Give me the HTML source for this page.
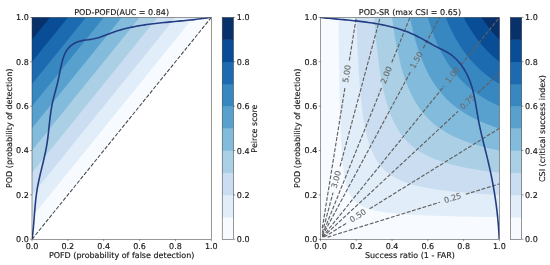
<!DOCTYPE html>
<html><head><meta charset="utf-8"><title>POD diagrams</title>
<style>html,body{margin:0;padding:0;background:#fff}svg{display:block;will-change:transform;text-rendering:geometricPrecision}text{stroke:#151515;stroke-width:.14px}text.bl{stroke:#6c6c6c}</style></head>
<body>
<svg width="550" height="265" viewBox="0 0 550 265" font-family='"DejaVu Sans", "Liberation Sans", sans-serif' font-size="8px" fill="#151515">
<rect width="550" height="265" fill="#fff"/>
<defs>
<clipPath id="c0"><rect x="32.0" y="17.4" width="179.3" height="221.9"/></clipPath>
<clipPath id="c1"><rect x="320.5" y="17.4" width="178.9" height="221.9"/></clipPath>
</defs>
<g clip-path="url(#c0)">
<polygon points="32,239.3 32,17.4 211.3,17.4" fill="#f7fbff"/>
<polygon points="32,217.11 32,17.4 193.37,17.4" fill="#e1edf8"/>
<polygon points="32,194.92 32,17.4 175.44,17.4" fill="#cbdef1"/>
<polygon points="32,172.73 32,17.4 157.51,17.4" fill="#abd0e6"/>
<polygon points="32,150.54 32,17.4 139.58,17.4" fill="#82bbdb"/>
<polygon points="32,128.35 32,17.4 121.65,17.4" fill="#58a1cf"/>
<polygon points="32,106.16 32,17.4 103.72,17.4" fill="#3787c0"/>
<polygon points="32,83.97 32,17.4 85.79,17.4" fill="#1c6ab0"/>
<polygon points="32,61.78 32,17.4 67.86,17.4" fill="#084d96"/>
<polygon points="32,39.59 32,17.4 49.93,17.4" fill="#08306b"/>
<line x1="32.0" y1="239.3" x2="211.3" y2="17.4" stroke="#444" stroke-width="1.05" stroke-dasharray="3.85 1.67"/>
<path d="M32.1 239.3 L32.34 237.15 L32.59 235.01 L32.83 232.87 L33.05 230.73 L33.26 228.58 L33.45 226.43 L33.64 224.28 L33.81 222.12 L33.99 219.97 L34.16 217.81 L34.32 215.65 L34.49 213.49 L34.66 211.33 L34.84 209.17 L35.03 207.01 L35.23 204.86 L35.44 202.7 L35.66 200.55 L35.9 198.4 L36.16 196.26 L36.44 194.11 L36.75 191.98 L37.08 189.84 L37.44 187.72 L37.83 185.59 L38.24 183.48 L38.67 181.36 L39.13 179.25 L39.6 177.15 L40.08 175.04 L40.57 172.94 L41.08 170.84 L41.58 168.74 L42.09 166.64 L42.6 164.54 L43.11 162.44 L43.6 160.34 L44.09 158.24 L44.57 156.14 L45.03 154.03 L45.48 151.92 L45.9 149.81 L46.31 147.69 L46.68 145.57 L47.03 143.44 L47.35 141.3 L47.64 139.17 L47.92 137.03 L48.18 134.88 L48.42 132.74 L48.65 130.59 L48.88 128.44 L49.11 126.29 L49.33 124.14 L49.56 121.99 L49.8 119.84 L50.06 117.7 L50.32 115.55 L50.61 113.41 L50.92 111.28 L51.25 109.15 L51.62 107.02 L52.02 104.9 L52.45 102.79 L52.93 100.68 L53.44 98.58 L53.97 96.48 L54.52 94.39 L55.08 92.31 L55.65 90.22 L56.21 88.14 L56.76 86.05 L57.3 83.97 L57.8 81.88 L58.28 79.79 L58.73 77.7 L59.15 75.6 L59.57 73.5 L59.98 71.39 L60.4 69.27 L60.85 67.15 L61.32 65.01 L61.84 62.86 L62.4 60.71 L63.04 58.56 L63.75 56.45 L64.57 54.41 L65.5 52.44 L66.57 50.59 L67.78 48.87 L69.15 47.3 L70.65 45.88 L72.27 44.61 L74.01 43.5 L75.86 42.55 L77.8 41.76 L79.82 41.14 L81.91 40.66 L84.06 40.29 L86.23 39.97 L88.42 39.68 L90.62 39.38 L92.8 39.03 L94.94 38.58 L97.06 38.04 L99.14 37.41 L101.19 36.71 L103.23 35.96 L105.25 35.19 L107.27 34.41 L109.29 33.63 L111.31 32.88 L113.34 32.16 L115.38 31.48 L117.43 30.83 L119.49 30.21 L121.55 29.62 L123.63 29.06 L125.71 28.54 L127.79 28.03 L129.89 27.56 L131.99 27.11 L134.09 26.68 L136.21 26.28 L138.32 25.9 L140.44 25.53 L142.57 25.19 L144.7 24.86 L146.84 24.56 L148.98 24.26 L151.12 23.98 L153.27 23.72 L155.42 23.46 L157.57 23.22 L159.72 22.99 L161.88 22.76 L164.03 22.54 L166.19 22.33 L168.35 22.12 L170.51 21.92 L172.67 21.72 L174.83 21.52 L176.99 21.32 L179.15 21.12 L181.31 20.92 L183.46 20.71 L185.62 20.5 L187.77 20.28 L189.92 20.06 L192.07 19.83 L194.22 19.59 L196.36 19.33 L198.5 19.07 L200.63 18.79 L202.76 18.5 L204.89 18.2 L207.01 17.88 L209.12 17.54 L211.3 17.3" fill="none" stroke="#223d83" stroke-width="1.6" stroke-linejoin="round"/>
</g>
<g clip-path="url(#c1)">
<rect x="320.5" y="17.4" width="178.9" height="221.9" fill="#f7fbff"/>
<polygon points="338.39,17.4 339.74,109.01 341.1,143.4 342.45,161.42 343.8,172.51 345.16,180.03 346.51,185.46 347.86,189.56 349.21,192.78 350.57,195.36 351.92,197.48 353.27,199.26 354.63,200.76 355.98,202.05 357.33,203.18 358.69,204.16 360.04,205.03 361.39,205.81 362.74,206.5 364.1,207.12 365.45,207.69 366.8,208.21 368.16,208.68 369.51,209.11 370.86,209.51 372.22,209.87 373.57,210.21 374.92,210.53 376.27,210.82 377.63,211.1 378.98,211.36 380.33,211.6 381.69,211.82 383.04,212.04 384.39,212.24 385.75,212.43 387.1,212.61 388.45,212.78 389.8,212.94 391.16,213.1 392.51,213.24 393.86,213.38 395.22,213.51 396.57,213.64 397.92,213.76 399.28,213.88 400.63,213.99 401.98,214.1 403.34,214.2 404.69,214.3 406.04,214.39 407.39,214.48 408.75,214.57 410.1,214.65 411.45,214.73 412.81,214.81 414.16,214.89 415.51,214.96 416.87,215.03 418.22,215.1 419.57,215.17 420.92,215.23 422.28,215.29 423.63,215.35 424.98,215.41 426.34,215.46 427.69,215.52 429.04,215.57 430.4,215.62 431.75,215.67 433.1,215.72 434.45,215.77 435.81,215.81 437.16,215.86 438.51,215.9 439.87,215.95 441.22,215.99 442.57,216.03 443.93,216.07 445.28,216.1 446.63,216.14 447.99,216.18 449.34,216.21 450.69,216.25 452.04,216.28 453.4,216.31 454.75,216.35 456.1,216.38 457.46,216.41 458.81,216.44 460.16,216.47 461.52,216.5 462.87,216.53 464.22,216.55 465.57,216.58 466.93,216.61 468.28,216.63 469.63,216.66 470.99,216.68 472.34,216.71 473.69,216.73 475.05,216.75 476.4,216.78 477.75,216.8 479.1,216.82 480.46,216.84 481.81,216.87 483.16,216.89 484.52,216.91 485.87,216.93 487.22,216.95 488.58,216.97 489.93,216.99 491.28,217 492.63,217.02 493.99,217.04 495.34,217.06 496.69,217.08 498.05,217.09 499.4,217.11 499.4,17.4" fill="#e1edf8"/>
<polygon points="356.28,17.4 357.48,48.43 358.69,70.55 359.89,87.11 361.09,99.97 362.29,110.25 363.5,118.65 364.7,125.64 365.9,131.56 367.1,136.63 368.31,141.02 369.51,144.86 370.71,148.25 371.91,151.26 373.12,153.95 374.32,156.38 375.52,158.57 376.73,160.56 377.93,162.38 379.13,164.05 380.33,165.58 381.54,167 382.74,168.31 383.94,169.52 385.14,170.65 386.35,171.71 387.55,172.7 388.75,173.63 389.96,174.5 391.16,175.32 392.36,176.09 393.56,176.82 394.77,177.51 395.97,178.16 397.17,178.78 398.37,179.37 399.58,179.93 400.78,180.46 401.98,180.97 403.18,181.46 404.39,181.92 405.59,182.37 406.79,182.79 408,183.2 409.2,183.59 410.4,183.96 411.6,184.32 412.81,184.67 414.01,185 415.21,185.32 416.41,185.63 417.62,185.93 418.82,186.22 420.02,186.5 421.23,186.77 422.43,187.02 423.63,187.28 424.83,187.52 426.04,187.75 427.24,187.98 428.44,188.2 429.64,188.42 430.85,188.62 432.05,188.82 433.25,189.02 434.45,189.21 435.66,189.4 436.86,189.57 438.06,189.75 439.27,189.92 440.47,190.08 441.67,190.25 442.87,190.4 444.08,190.56 445.28,190.7 446.48,190.85 447.68,190.99 448.89,191.13 450.09,191.26 451.29,191.4 452.5,191.52 453.7,191.65 454.9,191.77 456.1,191.89 457.31,192.01 458.51,192.12 459.71,192.24 460.91,192.35 462.12,192.45 463.32,192.56 464.52,192.66 465.72,192.76 466.93,192.86 468.13,192.96 469.33,193.05 470.54,193.14 471.74,193.23 472.94,193.32 474.14,193.41 475.35,193.5 476.55,193.58 477.75,193.66 478.95,193.74 480.16,193.82 481.36,193.9 482.56,193.98 483.77,194.05 484.97,194.13 486.17,194.2 487.37,194.27 488.58,194.34 489.78,194.41 490.98,194.48 492.18,194.54 493.39,194.61 494.59,194.67 495.79,194.74 496.99,194.8 498.2,194.86 499.4,194.92 499.4,17.4" fill="#cbdef1"/>
<polygon points="374.17,17.4 375.22,30.77 376.27,42.19 377.33,52.07 378.38,60.7 379.43,68.29 380.48,75.04 381.54,81.06 382.59,86.47 383.64,91.37 384.69,95.81 385.75,99.86 386.8,103.57 387.85,106.99 388.9,110.13 389.96,113.05 391.01,115.75 392.06,118.26 393.11,120.61 394.16,122.8 395.22,124.86 396.27,126.79 397.32,128.6 398.37,130.31 399.43,131.93 400.48,133.46 401.53,134.9 402.58,136.28 403.64,137.58 404.69,138.82 405.74,140 406.79,141.12 407.85,142.19 408.9,143.22 409.95,144.2 411,145.14 412.05,146.04 413.11,146.9 414.16,147.73 415.21,148.52 416.26,149.29 417.32,150.02 418.37,150.73 419.42,151.41 420.47,152.07 421.53,152.7 422.58,153.32 423.63,153.91 424.68,154.48 425.74,155.03 426.79,155.57 427.84,156.09 428.89,156.59 429.94,157.08 431,157.55 432.05,158 433.1,158.45 434.15,158.88 435.21,159.3 436.26,159.71 437.31,160.1 438.36,160.49 439.42,160.86 440.47,161.22 441.52,161.58 442.57,161.92 443.63,162.26 444.68,162.59 445.73,162.91 446.78,163.22 447.83,163.52 448.89,163.82 449.94,164.11 450.99,164.39 452.04,164.67 453.1,164.94 454.15,165.2 455.2,165.46 456.25,165.71 457.31,165.96 458.36,166.2 459.41,166.44 460.46,166.67 461.52,166.89 462.57,167.12 463.62,167.33 464.67,167.54 465.72,167.75 466.78,167.96 467.83,168.16 468.88,168.35 469.93,168.54 470.99,168.73 472.04,168.92 473.09,169.1 474.14,169.28 475.2,169.45 476.25,169.62 477.3,169.79 478.35,169.96 479.41,170.12 480.46,170.28 481.51,170.43 482.56,170.59 483.61,170.74 484.67,170.89 485.72,171.03 486.77,171.18 487.82,171.32 488.88,171.46 489.93,171.59 490.98,171.73 492.03,171.86 493.09,171.99 494.14,172.12 495.19,172.25 496.24,172.37 497.3,172.49 498.35,172.61 499.4,172.73 499.4,17.4" fill="#abd0e6"/>
<polygon points="392.06,17.4 392.96,24.1 393.86,30.25 394.77,35.93 395.67,41.18 396.57,46.04 397.47,50.57 398.37,54.8 399.28,58.75 400.18,62.45 401.08,65.92 401.98,69.19 402.88,72.27 403.79,75.17 404.69,77.92 405.59,80.52 406.49,82.99 407.39,85.33 408.3,87.56 409.2,89.68 410.1,91.7 411,93.63 411.9,95.47 412.81,97.23 413.71,98.91 414.61,100.53 415.51,102.08 416.41,103.56 417.32,104.99 418.22,106.36 419.12,107.68 420.02,108.96 420.92,110.18 421.83,111.36 422.73,112.5 423.63,113.6 424.53,114.66 425.43,115.69 426.34,116.68 427.24,117.64 428.14,118.57 429.04,119.47 429.94,120.34 430.85,121.19 431.75,122.01 432.65,122.81 433.55,123.58 434.45,124.33 435.36,125.06 436.26,125.77 437.16,126.46 438.06,127.13 438.96,127.78 439.87,128.42 440.77,129.04 441.67,129.64 442.57,130.23 443.47,130.8 444.38,131.36 445.28,131.91 446.18,132.44 447.08,132.96 447.99,133.47 448.89,133.96 449.79,134.45 450.69,134.92 451.59,135.38 452.5,135.83 453.4,136.28 454.3,136.71 455.2,137.13 456.1,137.54 457.01,137.95 457.91,138.35 458.81,138.73 459.71,139.12 460.61,139.49 461.52,139.85 462.42,140.21 463.32,140.56 464.22,140.91 465.12,141.24 466.03,141.58 466.93,141.9 467.83,142.22 468.73,142.53 469.63,142.84 470.54,143.14 471.44,143.44 472.34,143.73 473.24,144.01 474.14,144.29 475.05,144.57 475.95,144.84 476.85,145.11 477.75,145.37 478.65,145.62 479.56,145.88 480.46,146.13 481.36,146.37 482.26,146.61 483.16,146.85 484.07,147.08 484.97,147.31 485.87,147.54 486.77,147.76 487.67,147.98 488.58,148.19 489.48,148.41 490.38,148.61 491.28,148.82 492.18,149.02 493.09,149.22 493.99,149.42 494.89,149.61 495.79,149.8 496.69,149.99 497.6,150.18 498.5,150.36 499.4,150.54 499.4,17.4" fill="#82bbdb"/>
<polygon points="409.95,17.4 410.7,21.04 411.45,24.5 412.21,27.8 412.96,30.95 413.71,33.96 414.46,36.84 415.21,39.59 415.96,42.23 416.72,44.76 417.47,47.19 418.22,49.52 418.97,51.76 419.72,53.92 420.47,55.99 421.23,57.99 421.98,59.92 422.73,61.78 423.48,63.58 424.23,65.31 424.98,66.99 425.74,68.61 426.49,70.18 427.24,71.69 427.99,73.17 428.74,74.59 429.49,75.97 430.25,77.31 431,78.61 431.75,79.88 432.5,81.1 433.25,82.3 434,83.45 434.76,84.58 435.51,85.68 436.26,86.74 437.01,87.78 437.76,88.79 438.51,89.78 439.27,90.74 440.02,91.68 440.77,92.59 441.52,93.48 442.27,94.35 443.02,95.2 443.78,96.03 444.53,96.84 445.28,97.63 446.03,98.4 446.78,99.15 447.53,99.89 448.29,100.61 449.04,101.32 449.79,102.01 450.54,102.69 451.29,103.35 452.04,104 452.8,104.63 453.55,105.25 454.3,105.86 455.05,106.46 455.8,107.04 456.55,107.62 457.31,108.18 458.06,108.73 458.81,109.27 459.56,109.8 460.31,110.32 461.06,110.83 461.82,111.33 462.57,111.83 463.32,112.31 464.07,112.78 464.82,113.25 465.57,113.71 466.33,114.16 467.08,114.6 467.83,115.04 468.58,115.46 469.33,115.88 470.08,116.3 470.84,116.7 471.59,117.1 472.34,117.5 473.09,117.88 473.84,118.26 474.59,118.64 475.35,119.01 476.1,119.37 476.85,119.73 477.6,120.08 478.35,120.43 479.1,120.77 479.86,121.1 480.61,121.43 481.36,121.76 482.11,122.08 482.86,122.4 483.61,122.71 484.37,123.02 485.12,123.32 485.87,123.62 486.62,123.91 487.37,124.2 488.12,124.49 488.88,124.77 489.63,125.05 490.38,125.32 491.13,125.6 491.88,125.86 492.63,126.13 493.39,126.39 494.14,126.64 494.89,126.9 495.64,127.15 496.39,127.39 497.14,127.64 497.9,127.88 498.65,128.12 499.4,128.35 499.4,17.4" fill="#58a1cf"/>
<polygon points="427.84,17.4 428.44,19.44 429.04,21.42 429.64,23.35 430.25,25.22 430.85,27.04 431.45,28.81 432.05,30.53 432.65,32.21 433.25,33.84 433.85,35.43 434.45,36.97 435.06,38.48 435.66,39.95 436.26,41.39 436.86,42.79 437.46,44.16 438.06,45.49 438.66,46.79 439.27,48.06 439.87,49.31 440.47,50.52 441.07,51.71 441.67,52.87 442.27,54 442.87,55.11 443.47,56.2 444.08,57.26 444.68,58.3 445.28,59.32 445.88,60.32 446.48,61.3 447.08,62.26 447.68,63.2 448.29,64.12 448.89,65.02 449.49,65.9 450.09,66.77 450.69,67.62 451.29,68.46 451.89,69.28 452.5,70.08 453.1,70.87 453.7,71.65 454.3,72.41 454.9,73.15 455.5,73.89 456.1,74.61 456.7,75.32 457.31,76.02 457.91,76.7 458.51,77.37 459.11,78.03 459.71,78.69 460.31,79.33 460.91,79.96 461.52,80.57 462.12,81.18 462.72,81.78 463.32,82.37 463.92,82.95 464.52,83.53 465.12,84.09 465.72,84.64 466.33,85.19 466.93,85.73 467.53,86.25 468.13,86.78 468.73,87.29 469.33,87.8 469.93,88.29 470.54,88.79 471.14,89.27 471.74,89.75 472.34,90.22 472.94,90.68 473.54,91.14 474.14,91.59 474.74,92.04 475.35,92.48 475.95,92.91 476.55,93.34 477.15,93.76 477.75,94.17 478.35,94.58 478.95,94.99 479.56,95.39 480.16,95.78 480.76,96.17 481.36,96.55 481.96,96.93 482.56,97.31 483.16,97.68 483.77,98.04 484.37,98.4 484.97,98.76 485.57,99.11 486.17,99.46 486.77,99.8 487.37,100.14 487.97,100.48 488.58,100.81 489.18,101.14 489.78,101.46 490.38,101.78 490.98,102.09 491.58,102.41 492.18,102.72 492.79,103.02 493.39,103.32 493.99,103.62 494.59,103.92 495.19,104.21 495.79,104.5 496.39,104.78 496.99,105.06 497.6,105.34 498.2,105.62 498.8,105.89 499.4,106.16 499.4,17.4" fill="#3787c0"/>
<polygon points="445.73,17.4 446.18,18.53 446.63,19.64 447.08,20.74 447.53,21.81 447.99,22.87 448.44,23.91 448.89,24.93 449.34,25.94 449.79,26.93 450.24,27.9 450.69,28.86 451.14,29.8 451.59,30.73 452.04,31.64 452.5,32.54 452.95,33.42 453.4,34.3 453.85,35.15 454.3,36 454.75,36.83 455.2,37.65 455.65,38.46 456.1,39.26 456.55,40.05 457.01,40.82 457.46,41.58 457.91,42.34 458.36,43.08 458.81,43.81 459.26,44.53 459.71,45.24 460.16,45.94 460.61,46.64 461.06,47.32 461.52,47.99 461.97,48.66 462.42,49.31 462.87,49.96 463.32,50.6 463.77,51.23 464.22,51.85 464.67,52.47 465.12,53.07 465.57,53.67 466.03,54.27 466.48,54.85 466.93,55.43 467.38,56 467.83,56.56 468.28,57.11 468.73,57.66 469.18,58.21 469.63,58.74 470.08,59.27 470.54,59.8 470.99,60.31 471.44,60.83 471.89,61.33 472.34,61.83 472.79,62.32 473.24,62.81 473.69,63.3 474.14,63.77 474.59,64.24 475.05,64.71 475.5,65.17 475.95,65.63 476.4,66.08 476.85,66.53 477.3,66.97 477.75,67.4 478.2,67.84 478.65,68.26 479.1,68.69 479.56,69.11 480.01,69.52 480.46,69.93 480.91,70.34 481.36,70.74 481.81,71.13 482.26,71.53 482.71,71.92 483.16,72.3 483.61,72.68 484.07,73.06 484.52,73.43 484.97,73.8 485.42,74.17 485.87,74.53 486.32,74.89 486.77,75.25 487.22,75.6 487.67,75.95 488.12,76.29 488.58,76.64 489.03,76.98 489.48,77.31 489.93,77.64 490.38,77.97 490.83,78.3 491.28,78.62 491.73,78.94 492.18,79.26 492.63,79.58 493.09,79.89 493.54,80.2 493.99,80.5 494.44,80.81 494.89,81.11 495.34,81.4 495.79,81.7 496.24,81.99 496.69,82.28 497.14,82.57 497.6,82.85 498.05,83.14 498.5,83.42 498.95,83.69 499.4,83.97 499.4,17.4" fill="#1c6ab0"/>
<polygon points="463.62,17.4 463.92,17.98 464.22,18.55 464.52,19.12 464.82,19.69 465.12,20.25 465.42,20.8 465.72,21.35 466.03,21.89 466.33,22.43 466.63,22.96 466.93,23.49 467.23,24.02 467.53,24.54 467.83,25.05 468.13,25.56 468.43,26.07 468.73,26.57 469.03,27.07 469.33,27.56 469.63,28.05 469.93,28.53 470.23,29.01 470.54,29.49 470.84,29.96 471.14,30.43 471.44,30.89 471.74,31.35 472.04,31.81 472.34,32.26 472.64,32.71 472.94,33.16 473.24,33.6 473.54,34.03 473.84,34.47 474.14,34.9 474.44,35.33 474.74,35.75 475.05,36.17 475.35,36.59 475.65,37 475.95,37.41 476.25,37.82 476.55,38.22 476.85,38.63 477.15,39.02 477.45,39.42 477.75,39.81 478.05,40.2 478.35,40.58 478.65,40.97 478.95,41.35 479.25,41.72 479.56,42.1 479.86,42.47 480.16,42.84 480.46,43.2 480.76,43.57 481.06,43.93 481.36,44.28 481.66,44.64 481.96,44.99 482.26,45.34 482.56,45.69 482.86,46.03 483.16,46.37 483.46,46.71 483.77,47.05 484.07,47.39 484.37,47.72 484.67,48.05 484.97,48.38 485.27,48.7 485.57,49.03 485.87,49.35 486.17,49.67 486.47,49.98 486.77,50.3 487.07,50.61 487.37,50.92 487.67,51.23 487.97,51.53 488.28,51.84 488.58,52.14 488.88,52.44 489.18,52.73 489.48,53.03 489.78,53.32 490.08,53.62 490.38,53.9 490.68,54.19 490.98,54.48 491.28,54.76 491.58,55.04 491.88,55.32 492.18,55.6 492.48,55.88 492.79,56.15 493.09,56.43 493.39,56.7 493.69,56.97 493.99,57.24 494.29,57.5 494.59,57.77 494.89,58.03 495.19,58.29 495.49,58.55 495.79,58.81 496.09,59.06 496.39,59.32 496.69,59.57 496.99,59.82 497.3,60.07 497.6,60.32 497.9,60.57 498.2,60.81 498.5,61.06 498.8,61.3 499.1,61.54 499.4,61.78 499.4,17.4" fill="#084d96"/>
<polygon points="481.51,17.4 481.66,17.63 481.81,17.86 481.96,18.09 482.11,18.31 482.26,18.54 482.41,18.77 482.56,18.99 482.71,19.21 482.86,19.44 483.01,19.66 483.16,19.88 483.31,20.1 483.46,20.32 483.61,20.54 483.77,20.75 483.92,20.97 484.07,21.19 484.22,21.4 484.37,21.62 484.52,21.83 484.67,22.04 484.82,22.25 484.97,22.47 485.12,22.68 485.27,22.88 485.42,23.09 485.57,23.3 485.72,23.51 485.87,23.72 486.02,23.92 486.17,24.13 486.32,24.33 486.47,24.53 486.62,24.74 486.77,24.94 486.92,25.14 487.07,25.34 487.22,25.54 487.37,25.74 487.52,25.94 487.67,26.13 487.82,26.33 487.97,26.53 488.12,26.72 488.28,26.92 488.43,27.11 488.58,27.3 488.73,27.49 488.88,27.69 489.03,27.88 489.18,28.07 489.33,28.26 489.48,28.45 489.63,28.64 489.78,28.82 489.93,29.01 490.08,29.2 490.23,29.38 490.38,29.57 490.53,29.75 490.68,29.94 490.83,30.12 490.98,30.3 491.13,30.48 491.28,30.66 491.43,30.84 491.58,31.02 491.73,31.2 491.88,31.38 492.03,31.56 492.18,31.74 492.33,31.92 492.48,32.09 492.63,32.27 492.79,32.44 492.94,32.62 493.09,32.79 493.24,32.96 493.39,33.14 493.54,33.31 493.69,33.48 493.84,33.65 493.99,33.82 494.14,33.99 494.29,34.16 494.44,34.33 494.59,34.5 494.74,34.66 494.89,34.83 495.04,35 495.19,35.16 495.34,35.33 495.49,35.49 495.64,35.66 495.79,35.82 495.94,35.98 496.09,36.15 496.24,36.31 496.39,36.47 496.54,36.63 496.69,36.79 496.84,36.95 496.99,37.11 497.14,37.27 497.3,37.43 497.45,37.58 497.6,37.74 497.75,37.9 497.9,38.06 498.05,38.21 498.2,38.37 498.35,38.52 498.5,38.67 498.65,38.83 498.8,38.98 498.95,39.13 499.1,39.29 499.25,39.44 499.4,39.59 499.4,17.4" fill="#08306b"/>
<path d="M322.29 228.21 L345 87.36 M349.33 60.51 L356.28 17.4" fill="none" stroke="#606060" stroke-width="1.15" stroke-dasharray="3.85 1.67"/>
<path d="M322.29 232.64 L333.02 192.69 M340.08 166.43 L380.13 17.4" fill="none" stroke="#606060" stroke-width="1.15" stroke-dasharray="3.85 1.67"/>
<path d="M322.29 234.86 L381.57 87.8 M391.74 62.57 L409.95 17.4" fill="none" stroke="#606060" stroke-width="1.15" stroke-dasharray="3.85 1.67"/>
<path d="M322.29 235.97 L410.31 72.21 M423.18 48.25 L439.77 17.4" fill="none" stroke="#606060" stroke-width="1.15" stroke-dasharray="3.85 1.67"/>
<path d="M322.29 237.08 L444.15 85.93 M461.22 64.75 L499.4 17.4" fill="none" stroke="#606060" stroke-width="1.15" stroke-dasharray="3.85 1.67"/>
<path d="M322.89 237.08 L457.98 111.4 M477.9 92.88 L499.4 72.88" fill="none" stroke="#606060" stroke-width="1.15" stroke-dasharray="3.85 1.67"/>
<path d="M324.08 237.08 L346.54 223.15 M369.66 208.81 L499.4 128.35" fill="none" stroke="#606060" stroke-width="1.15" stroke-dasharray="3.85 1.67"/>
<path d="M327.66 237.08 L439.78 202.31 M465.76 194.26 L499.4 183.83" fill="none" stroke="#606060" stroke-width="1.15" stroke-dasharray="3.85 1.67"/>
<text transform="translate(347.16 73.93) rotate(-80.84)" class="bl" text-anchor="middle" y="2.35" fill="#6c6c6c">5.00</text>
<text transform="translate(336.55 179.56) rotate(-74.96)" class="bl" text-anchor="middle" y="2.35" fill="#6c6c6c">3.00</text>
<text transform="translate(386.66 75.18) rotate(-68.05)" class="bl" text-anchor="middle" y="2.35" fill="#6c6c6c">2.00</text>
<text transform="translate(416.75 60.23) rotate(-61.74)" class="bl" text-anchor="middle" y="2.35" fill="#6c6c6c">1.50</text>
<text transform="translate(452.69 75.34) rotate(-51.12)" class="bl" text-anchor="middle" y="2.35" fill="#6c6c6c">1.00</text>
<text transform="translate(467.94 102.14) rotate(-42.93)" class="bl" text-anchor="middle" y="2.35" fill="#6c6c6c">0.75</text>
<text transform="translate(358.1 215.98) rotate(-31.81)" class="bl" text-anchor="middle" y="2.35" fill="#6c6c6c">0.50</text>
<text transform="translate(452.77 198.28) rotate(-17.23)" class="bl" text-anchor="middle" y="2.35" fill="#6c6c6c">0.25</text>
<path d="M320.5 17.3 L322.58 17.65 L324.63 17.87 L326.69 18.09 L328.76 18.29 L330.83 18.5 L332.9 18.7 L334.97 18.89 L337.05 19.08 L339.13 19.28 L341.21 19.47 L343.3 19.66 L345.38 19.86 L347.47 20.05 L349.55 20.26 L351.64 20.46 L353.73 20.68 L355.81 20.9 L357.9 21.12 L359.98 21.36 L362.06 21.61 L364.14 21.86 L366.22 22.13 L368.29 22.42 L370.36 22.71 L372.42 23.03 L374.49 23.35 L376.54 23.7 L378.59 24.06 L380.64 24.45 L382.68 24.85 L384.72 25.27 L386.75 25.72 L388.77 26.19 L390.78 26.68 L392.79 27.2 L394.79 27.74 L396.78 28.31 L398.76 28.91 L400.73 29.54 L402.7 30.2 L404.65 30.89 L406.59 31.61 L408.53 32.36 L410.45 33.15 L412.36 33.98 L414.25 34.84 L416.14 35.74 L418.01 36.67 L419.88 37.64 L421.73 38.64 L423.57 39.66 L425.41 40.7 L427.25 41.74 L429.09 42.78 L430.93 43.82 L432.78 44.84 L434.63 45.84 L436.49 46.82 L438.36 47.75 L440.24 48.67 L442.12 49.58 L443.97 50.51 L445.8 51.47 L447.6 52.48 L449.35 53.56 L451.04 54.73 L452.68 55.99 L454.25 57.33 L455.77 58.74 L457.24 60.22 L458.64 61.76 L459.98 63.37 L461.27 65.03 L462.49 66.74 L463.66 68.5 L464.76 70.29 L465.8 72.12 L466.79 73.98 L467.71 75.87 L468.56 77.78 L469.36 79.7 L470.11 81.64 L470.8 83.6 L471.44 85.57 L472.04 87.55 L472.59 89.55 L473.11 91.56 L473.6 93.58 L474.05 95.61 L474.48 97.64 L474.88 99.69 L475.27 101.74 L475.64 103.79 L476 105.85 L476.35 107.91 L476.69 109.98 L477.03 112.04 L477.38 114.11 L477.73 116.17 L478.1 118.23 L478.47 120.29 L478.86 122.35 L479.27 124.4 L479.7 126.44 L480.14 128.48 L480.59 130.52 L481.05 132.56 L481.52 134.59 L482 136.62 L482.49 138.65 L482.99 140.68 L483.49 142.7 L483.99 144.73 L484.5 146.75 L485.01 148.78 L485.51 150.8 L486.02 152.82 L486.52 154.85 L487.02 156.87 L487.52 158.9 L488 160.93 L488.48 162.96 L488.95 164.99 L489.41 167.03 L489.87 169.06 L490.31 171.1 L490.74 173.14 L491.17 175.18 L491.58 177.23 L491.99 179.27 L492.38 181.32 L492.77 183.37 L493.15 185.42 L493.51 187.48 L493.87 189.53 L494.22 191.59 L494.55 193.65 L494.88 195.71 L495.2 197.77 L495.5 199.83 L495.8 201.9 L496.08 203.97 L496.36 206.03 L496.62 208.1 L496.87 210.18 L497.11 212.25 L497.34 214.32 L497.56 216.4 L497.77 218.48 L497.97 220.55 L498.16 222.63 L498.33 224.72 L498.49 226.8 L498.64 228.88 L498.78 230.97 L498.91 233.05 L499.03 235.14 L499.13 237.23 L499.3 239.3" fill="none" stroke="#223d83" stroke-width="1.6" stroke-linejoin="round"/>
</g>
<rect x="32.0" y="17.4" width="179.3" height="221.9" fill="none" stroke="#333" stroke-width="0.5"/>
<text x="32" y="248.6" text-anchor="middle">0.0</text>
<text x="28.8" y="242.05" text-anchor="end">0.0</text>
<text x="67.86" y="248.6" text-anchor="middle">0.2</text>
<text x="28.8" y="197.67" text-anchor="end">0.2</text>
<text x="103.72" y="248.6" text-anchor="middle">0.4</text>
<text x="28.8" y="153.29" text-anchor="end">0.4</text>
<text x="139.58" y="248.6" text-anchor="middle">0.6</text>
<text x="28.8" y="108.91" text-anchor="end">0.6</text>
<text x="175.44" y="248.6" text-anchor="middle">0.8</text>
<text x="28.8" y="64.53" text-anchor="end">0.8</text>
<text x="211.3" y="248.6" text-anchor="middle">1.0</text>
<text x="28.8" y="20.15" text-anchor="end">1.0</text>
<path d="M32 239.3 v1.8 M32.0 239.3 h-1.8 M67.86 239.3 v1.8 M32.0 194.92 h-1.8 M103.72 239.3 v1.8 M32.0 150.54 h-1.8 M139.58 239.3 v1.8 M32.0 106.16 h-1.8 M175.44 239.3 v1.8 M32.0 61.78 h-1.8 M211.3 239.3 v1.8 M32.0 17.4 h-1.8" stroke="#333" stroke-width="0.5" fill="none"/>
<text x="121.65" y="14.6" text-anchor="middle">POD-POFD(AUC = 0.84)</text>
<text x="121.65" y="258.1" text-anchor="middle">POFD (probability of false detection)</text>
<text transform="translate(11.7 128.35) rotate(-90)" text-anchor="middle">POD (probability of detection)</text>
<rect x="222.2" y="217.11" width="11.3" height="22.49" fill="#f7fbff"/>
<rect x="222.2" y="194.92" width="11.3" height="22.49" fill="#e1edf8"/>
<rect x="222.2" y="172.73" width="11.3" height="22.49" fill="#cbdef1"/>
<rect x="222.2" y="150.54" width="11.3" height="22.49" fill="#abd0e6"/>
<rect x="222.2" y="128.35" width="11.3" height="22.49" fill="#82bbdb"/>
<rect x="222.2" y="106.16" width="11.3" height="22.49" fill="#58a1cf"/>
<rect x="222.2" y="83.97" width="11.3" height="22.49" fill="#3787c0"/>
<rect x="222.2" y="61.78" width="11.3" height="22.49" fill="#1c6ab0"/>
<rect x="222.2" y="39.59" width="11.3" height="22.49" fill="#084d96"/>
<rect x="222.2" y="17.4" width="11.3" height="22.49" fill="#08306b"/>
<rect x="222.2" y="17.4" width="11.3" height="221.9" fill="none" stroke="#333" stroke-width="0.5"/>
<text x="236.8" y="242.3">0.0</text>
<text x="236.8" y="197.92">0.2</text>
<text x="236.8" y="153.54">0.4</text>
<text x="236.8" y="109.16">0.6</text>
<text x="236.8" y="64.78">0.8</text>
<text x="236.8" y="20.4">1.0</text>
<path d="M233.5 239.3 h1.8 M233.5 194.92 h1.8 M233.5 150.54 h1.8 M233.5 106.16 h1.8 M233.5 61.78 h1.8 M233.5 17.4 h1.8" stroke="#333" stroke-width="0.5" fill="none"/>
<text transform="translate(257.1 128.55) rotate(-90)" text-anchor="middle">Peirce score</text>
<rect x="320.5" y="17.4" width="178.9" height="221.9" fill="none" stroke="#333" stroke-width="0.5"/>
<text x="320.5" y="248.6" text-anchor="middle">0.0</text>
<text x="317.3" y="242.05" text-anchor="end">0.0</text>
<text x="356.28" y="248.6" text-anchor="middle">0.2</text>
<text x="317.3" y="197.67" text-anchor="end">0.2</text>
<text x="392.06" y="248.6" text-anchor="middle">0.4</text>
<text x="317.3" y="153.29" text-anchor="end">0.4</text>
<text x="427.84" y="248.6" text-anchor="middle">0.6</text>
<text x="317.3" y="108.91" text-anchor="end">0.6</text>
<text x="463.62" y="248.6" text-anchor="middle">0.8</text>
<text x="317.3" y="64.53" text-anchor="end">0.8</text>
<text x="499.4" y="248.6" text-anchor="middle">1.0</text>
<text x="317.3" y="20.15" text-anchor="end">1.0</text>
<path d="M320.5 239.3 v1.8 M320.5 239.3 h-1.8 M356.28 239.3 v1.8 M320.5 194.92 h-1.8 M392.06 239.3 v1.8 M320.5 150.54 h-1.8 M427.84 239.3 v1.8 M320.5 106.16 h-1.8 M463.62 239.3 v1.8 M320.5 61.78 h-1.8 M499.4 239.3 v1.8 M320.5 17.4 h-1.8" stroke="#333" stroke-width="0.5" fill="none"/>
<text x="409.95" y="14.6" text-anchor="middle">POD-SR (max CSI = 0.65)</text>
<text x="409.95" y="258.1" text-anchor="middle">Success ratio (1 - FAR)</text>
<text transform="translate(300.2 128.35) rotate(-90)" text-anchor="middle">POD (probability of detection)</text>
<rect x="510.3" y="217.11" width="11.4" height="22.49" fill="#f7fbff"/>
<rect x="510.3" y="194.92" width="11.4" height="22.49" fill="#e1edf8"/>
<rect x="510.3" y="172.73" width="11.4" height="22.49" fill="#cbdef1"/>
<rect x="510.3" y="150.54" width="11.4" height="22.49" fill="#abd0e6"/>
<rect x="510.3" y="128.35" width="11.4" height="22.49" fill="#82bbdb"/>
<rect x="510.3" y="106.16" width="11.4" height="22.49" fill="#58a1cf"/>
<rect x="510.3" y="83.97" width="11.4" height="22.49" fill="#3787c0"/>
<rect x="510.3" y="61.78" width="11.4" height="22.49" fill="#1c6ab0"/>
<rect x="510.3" y="39.59" width="11.4" height="22.49" fill="#084d96"/>
<rect x="510.3" y="17.4" width="11.4" height="22.49" fill="#08306b"/>
<rect x="510.3" y="17.4" width="11.4" height="221.9" fill="none" stroke="#333" stroke-width="0.5"/>
<text x="525" y="242.3">0.0</text>
<text x="525" y="197.92">0.2</text>
<text x="525" y="153.54">0.4</text>
<text x="525" y="109.16">0.6</text>
<text x="525" y="64.78">0.8</text>
<text x="525" y="20.4">1.0</text>
<path d="M521.7 239.3 h1.8 M521.7 194.92 h1.8 M521.7 150.54 h1.8 M521.7 106.16 h1.8 M521.7 61.78 h1.8 M521.7 17.4 h1.8" stroke="#333" stroke-width="0.5" fill="none"/>
<text transform="translate(545.3 128.55) rotate(-90)" text-anchor="middle">CSI (critical success index)</text>
</svg>
</body></html>
